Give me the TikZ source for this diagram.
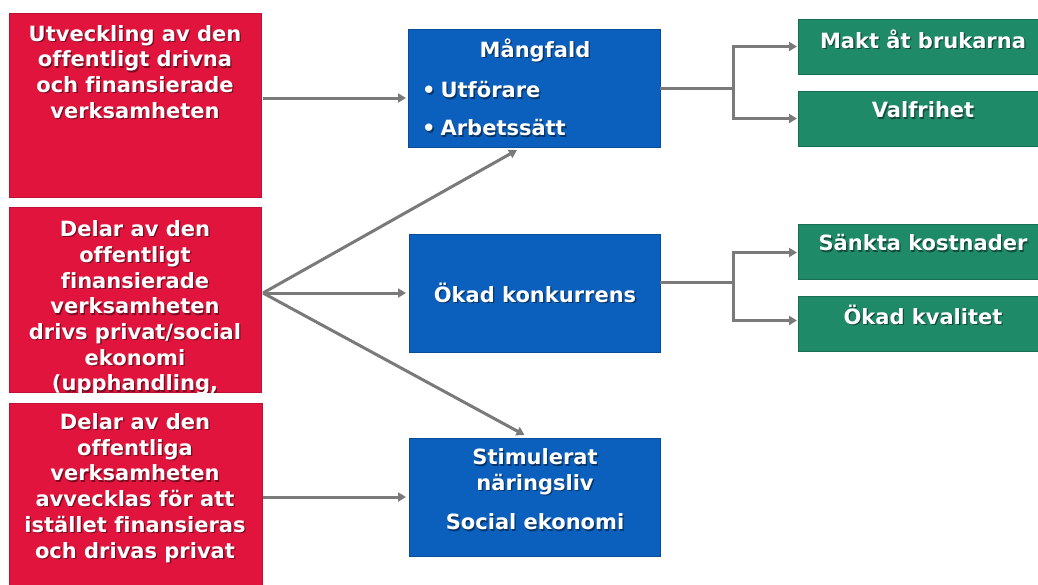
\documentclass[tikz,border=0pt]{standalone}
\usepackage{fontspec}
\setmainfont{DejaVu Sans}[Ligatures=NoCommon]
\usetikzlibrary{arrows.meta,calc}
\definecolor{cred}{HTML}{E0143C}
\definecolor{cblue}{HTML}{0B5FBD}
\definecolor{cgreen}{HTML}{1F8A68}
\definecolor{cgray}{HTML}{7A7A7A}
\newcommand{\shtext}[4]{%
  \node[lbl,#3,text=black,opacity=0.45] (#1s) at ($(#2)+(1.3,1.3)$) {#4};
  \node[lbl,#3] (#1) at (#2) {#4};}
\begin{document}
\begin{tikzpicture}[x=1pt,y=-1pt,
  box/.style={anchor=north west,inner sep=0,outer sep=0},
  redbox/.style={box,fill=cred,draw=cred!85!black,line width=0.6pt},
  bluebox/.style={box,fill=cblue,draw=cblue!80!black,line width=0.6pt},
  greenbox/.style={box,fill=cgreen,draw=cgreen!80!black,line width=0.6pt},
  lbl/.style={text=white,font=\fontsize{21}{25.7}\selectfont\bfseries,align=center,inner sep=0},
  conn/.style={draw=cgray,line width=3pt},
  arr/.style={conn,-{Triangle[length=8pt,width=9pt]}}]
\useasboundingbox (0,0) rectangle (1038,584);
\fill[white] (0,0) rectangle (1038,584);
% red boxes
\node[redbox,minimum width=252pt,minimum height=184pt] (r1) at (9,13) {};
\node[redbox,minimum width=252pt,minimum height=185pt] (r2) at (9,207) {};
\node[redbox,minimum width=253pt,minimum height=190pt] (r3) at (9,403) {};
% blue boxes
\node[bluebox,minimum width=252pt,minimum height=118pt] (b1) at (408,29) {};
\node[bluebox,minimum width=251pt,minimum height=118pt] (b2) at (409,234) {};
\node[bluebox,minimum width=251pt,minimum height=118pt] (b3) at (409,438) {};
% green boxes
\node[greenbox,minimum width=250pt,minimum height=55pt] (g1) at (798,19) {};
\node[greenbox,minimum width=250pt,minimum height=55pt] (g2) at (798,91) {};
\node[greenbox,minimum width=250pt,minimum height=55pt] (g3) at (798,224) {};
\node[greenbox,minimum width=250pt,minimum height=55pt] (g4) at (798,296) {};
% texts
\shtext{t1}{135,72}{}{Utveckling av den\\offentligt drivna\\och finansierade\\verksamheten}
\begin{scope}
\clip (r2.north west) rectangle (r2.south east);
\shtext{t2}{135,308}{}{Delar av den\\offentligt\\finansierade\\verksamheten\\drivs privat/social\\ekonomi\\(upphandling,}
\end{scope}
\shtext{t3}{135,488}{}{Delar av den\\offentliga\\verksamheten\\avvecklas för att\\istället finansieras\\och drivas privat}
\shtext{tb1}{535,50}{}{Mångfald}
\shtext{tb1a}{422,90}{anchor=west}{•\hspace{5pt}Utförare}
\shtext{tb1b}{422,128}{anchor=west}{•\hspace{5pt}Arbetssätt}
\shtext{tb2}{535,293}{}{Ökad konkurrens}
\shtext{tb3}{535,472}{}{Stimulerat\\näringsliv}
\shtext{tb3b}{535,522}{}{Social ekonomi}
\shtext{tg1}{923,39}{}{Makt åt brukarna}
\shtext{tg2}{923,110}{}{Valfrihet}
\shtext{tg3}{923,243}{}{Sänkta kostnader}
\shtext{tg4}{923,315}{}{Ökad kvalitet}
% connectors
\coordinate (a1) at (263,98);
\draw[arr] (a1) -- ([xshift=-2pt]b1.west |- a1);
\coordinate (f) at (263,293);
\draw[arr] (f) -- ([xshift=-17pt,yshift=-3pt]b1.south);
\draw[arr] (f) -- ([xshift=-3pt]b2.west |- f);
\draw[arr] (f) -- ([xshift=-10pt,yshift=3pt]b3.north);
\coordinate (a3) at (263,497);
\draw[arr] (a3) -- ([xshift=-3pt]b3.west |- a3);
\coordinate (j1) at (733,88);
\draw[conn] (b1.east |- j1) -- (j1);
\draw[arr] (j1) |- ([xshift=-1pt]g1.west);
\draw[arr] (j1) |- ([xshift=-1pt]g2.west);
\coordinate (j2) at (733,282);
\draw[conn] (b2.east |- j2) -- (j2);
\draw[arr] (j2) |- ([xshift=-1pt,yshift=-1pt]g3.west);
\draw[arr] (j2) |- ([xshift=-1pt,yshift=3pt]g4.west);
\end{tikzpicture}
\end{document}
